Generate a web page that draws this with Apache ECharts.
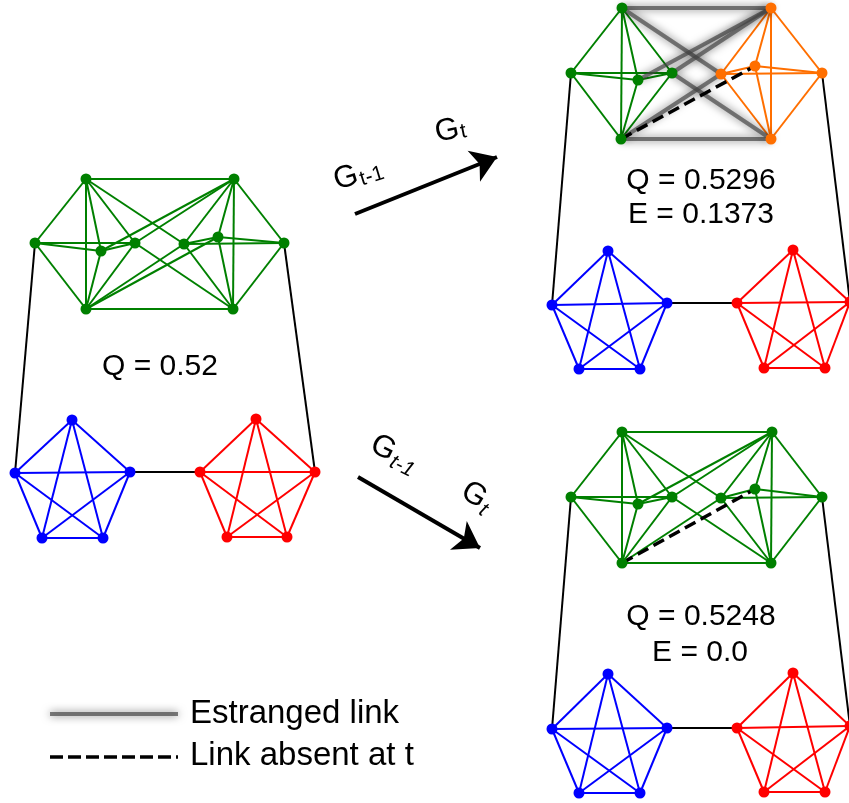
<!DOCTYPE html>
<html><head><meta charset="utf-8">
<script src="https://cdn.jsdelivr.net/npm/echarts@6/dist/echarts.min.js"></script>
<style>html,body{margin:0;padding:0;background:#fff}#c{width:849px;height:803px}</style>
</head><body><div id="c"></div>
<script>
// Node order: 0 TL,1 L,2 i1,3 i2,4 BL (community A) | 5 TR,6 R,7 i3,8 i4,9 BR (community B)
// 10-14 blue pentagon (top,left,right,botL,botR) | 15-19 red pentagon (same order)
const nodesLeft = [[86,179],[35,243],[101,251],[135,243],[86,309],
  [234,179],[284,243],[184,244],[218,237],[233,309],
  [72,420],[15,473],[130,472],[42,538],[103,538],
  [256,419],[200,472],[315,472],[227,537],[287,537]];
const nodesTop = [[622,8],[571,73],[638,80],[672,73],[621,139],
  [771,8],[822,73],[721,74],[755,66],[771,139],
  [608,251],[552,305],[667,303],[579,369],[640,369],
  [793,250],[737,303],[850,302],[764,368],[825,368]];
const nodesBottom = [[622,432],[571,497],[638,504],[672,497],[622,563],
  [772,432],[822,497],[721,498],[755,489],[771,563],
  [608,674],[552,729],[667,728],[579,793],[640,793],
  [793,673],[737,728],[850,726],[764,792],[825,792]];

const cliques = [[0,1,2,3,4],[5,6,7,8,9],[10,11,12,13,14],[15,16,17,18,19]];
const crossLinks = [[0,5],[4,9],[0,7],[9,3],[5,2],[5,3],[4,7]];
const absentLink = [4,8];
const bridgeLinks = [[1,11],[6,17],[12,16]];

const arrowTop = [[355,214],[497,157]];
const arrowBottom = [[358,477],[480,548]];
const legendEstranged = [[50,714],[178,714]];
const legendAbsent = [[50,757],[178,757]];

const qLabels = [
  {text:'Q = 0.52', pos:[160,367]},
  {text:'Q = 0.5296', pos:[701,181]},
  {text:'E = 0.1373', pos:[701,215]},
  {text:'Q = 0.5248', pos:[701,617]},
  {text:'E = 0.0', pos:[700,653]}
];
const legendLabels = [
  {text:'Estranged link', pos:[190,714]},
  {text:'Link absent at t', pos:[190,756]}
];

const GREEN='#008000', BLUE='#0000ff', RED='#ff0000', ORANGE='#ff6f00';
const FONT='Liberation Sans, Arial, sans-serif';

function cliqueLinks(color, idx){
  const out=[];
  const c=cliques[idx];
  for(let a=0;a<c.length;a++)for(let b=a+1;b<c.length;b++)
    out.push({source:c[a],target:c[b],lineStyle:{color:color,width:2,opacity:1}});
  return out;
}
const estrangedStyle={color:'rgba(70,70,70,0.7)',width:4,opacity:1,shadowBlur:8,shadowColor:'rgba(0,0,0,0.75)'};
const dashedStyle={color:'#000',width:3.5,type:[12,6],opacity:1};

function panel(nodes, colorB, mode){
  const colorOf=i=> i<5?GREEN:(i<10?colorB:(i<15?BLUE:RED));
  let links=[].concat(cliqueLinks(GREEN,0),cliqueLinks(colorB,1),cliqueLinks(BLUE,2),cliqueLinks(RED,3));
  bridgeLinks.forEach(l=>links.push({source:l[0],target:l[1],lineStyle:{color:'#000',width:2,opacity:1}}));
  crossLinks.forEach(l=>links.push({source:l[0],target:l[1],
    lineStyle: mode==='estranged'?estrangedStyle:{color:GREEN,width:2,opacity:1}}));
  if(mode==='full') links.push({source:absentLink[0],target:absentLink[1],lineStyle:{color:GREEN,width:2,opacity:1}});
  else links.push({source:absentLink[0],target:absentLink[1],lineStyle:dashedStyle});
  return {
    type:'graph', coordinateSystem:'cartesian2d', silent:true, animation:false,
    symbol:'circle', symbolSize:11, nodeScaleRatio:1, lineStyle:{opacity:1},
    data: nodes.map((p,i)=>({value:p,symbolSize:11,itemStyle:{color:colorOf(i),opacity:1}})),
    links: links, label:{show:false}
  };
}

function subLabel(center, rot, sub, subOff, italic, size){
  return {type:'group', x:center[0], y:center[1], rotation:rot, children:[
    {type:'text', x:0, y:0, style:{text:'G', font:size+'px '+FONT, fill:'#000', align:'center', verticalAlign:'middle'}},
    {type:'text', x:subOff[0], y:subOff[1], style:{text:sub, font:(italic?'italic ':'')+Math.round(size*0.68)+'px '+FONT, fill:'#000', align:'left', verticalAlign:'middle'}}
  ]};
}

const graphics=[];
qLabels.forEach(q=>graphics.push({type:'text',x:q.pos[0],y:q.pos[1],style:{text:q.text,font:'30px '+FONT,fill:'#000',align:'center',verticalAlign:'middle'}}));
legendLabels.forEach(q=>graphics.push({type:'text',x:q.pos[0],y:q.pos[1],style:{text:q.text,font:'33px '+FONT,fill:'#000',align:'left',verticalAlign:'middle'}}));
graphics.push(subLabel([346,178],0.3,'t-1',[13,6],false,31));
graphics.push(subLabel([447,131],0.2,'t',[13,4],false,31));
graphics.push(subLabel([383,448],-0.47,'t-1',[13,8],true,31));
graphics.push(subLabel([474,495],-0.55,'t',[13,8],true,31));

const chart=echarts.init(document.getElementById('c'),null,{renderer:'canvas'});
chart.setOption({
  animation:false,
  grid:{left:0,right:0,top:0,bottom:0},
  xAxis:{type:'value',min:0,max:849,show:false},
  yAxis:{type:'value',min:0,max:803,inverse:true,show:false},
  series:[
    panel(nodesLeft,GREEN,'full'),
    panel(nodesTop,ORANGE,'estranged'),
    panel(nodesBottom,GREEN,'bottom'),
    {type:'lines',coordinateSystem:'cartesian2d',silent:true,animation:false,
     symbol:['none','arrow'],symbolSize:[0,25],
     lineStyle:{color:'#000',width:4,opacity:1},
     data:[{coords:arrowTop},{coords:arrowBottom}]},
    {type:'lines',coordinateSystem:'cartesian2d',silent:true,animation:false,
     lineStyle:estrangedStyle,data:[{coords:legendEstranged}]},
    {type:'lines',coordinateSystem:'cartesian2d',silent:true,animation:false,
     lineStyle:{color:'#000',width:3.5,type:[13,5],opacity:1},data:[{coords:legendAbsent}]}
  ],
  graphic:graphics
});
</script></body></html>
